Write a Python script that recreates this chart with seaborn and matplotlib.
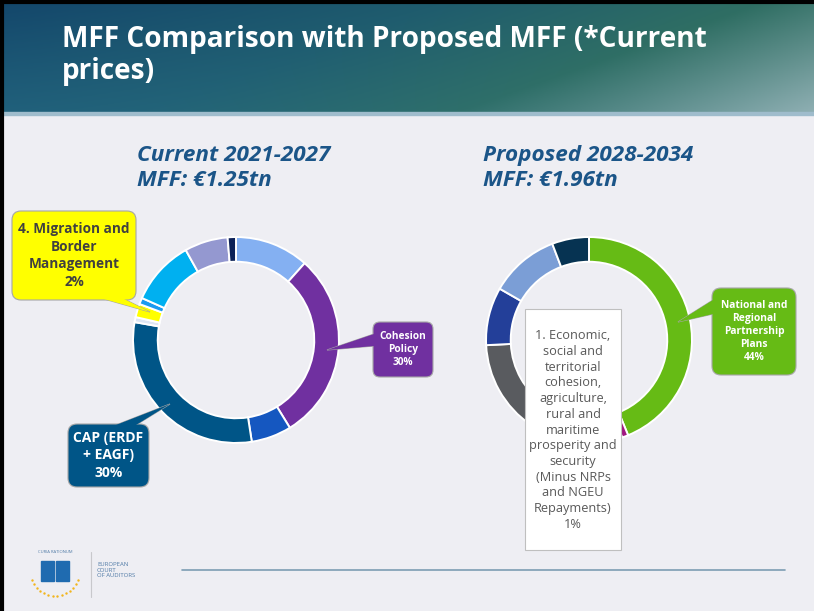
import numpy as np
import matplotlib
matplotlib.use("Agg")
import matplotlib.pyplot as plt
import seaborn as sns
from matplotlib.patches import FancyBboxPatch, Polygon, Rectangle
from matplotlib.colors import to_rgb

# ── data ──────────────────────────────────────────────────────────────
cur_labels = ["Single market & digital", "Cohesion Policy", "Resilience & values",
              "CAP (ERDF + EAGF)", "Environment", "Migration and Border Management",
              "Security & defence", "Neighbourhood & world", "Public administration",
              "Other"]
cur_share = [11.6, 29.6, 6.3, 30.2, 0.8, 2.1, 1.0, 10.2, 6.8, 1.3]
cur_colors = ["#84b0f2", "#7030a0", "#1557c0", "#005587", "#dde6f4", "#ffff00",
              "#1a9af0", "#00b0f0", "#9498d0", "#0c2157"]

new_labels = ["National and Regional Partnership Plans", "1. Economic, social ...",
              "Competitiveness", "Global Europe", "Administration", "Other"]
new_share = [43.8, 1.0, 29.4, 9.1, 10.9, 5.8]
new_colors = ["#66bb15", "#a0167f", "#595b5f", "#233f99", "#7b9ed6", "#063352"]

title_lines = ["MFF Comparison with Proposed MFF (*Current", "prices)"]
left_head = ["Current 2021-2027", "MFF: \u20ac1.25tn"]
right_head = ["Proposed 2028-2034", "MFF: \u20ac1.96tn"]

W, H = 814, 611
BG = "#eeeef3"

sns.set_theme(style="white")
plt.rcParams["font.family"] = ["Open Sans", "DejaVu Sans"]

fig = plt.figure(figsize=(W / 100, H / 100), dpi=100)
fig.patch.set_facecolor(BG)

# background layer in pixel coordinates
bg = fig.add_axes([0, 0, 1, 1])
bg.set_xlim(0, W); bg.set_ylim(H, 0); bg.axis("off")

# header gradient
gw, gh = 400, 60
xx, yy = np.meshgrid(np.linspace(0, 1, gw), np.linspace(0, 1, gh))
t = np.clip(0.72 * xx + 0.28 * yy, 0, 1)
stops = [0.0, 0.4, 0.68, 1.0]
cols = np.array([to_rgb(c) for c in ["#13466b", "#1f5c6d", "#2f6e63", "#90b0b4"]])
grad = np.stack([np.interp(t, stops, cols[:, k]) for k in range(3)], axis=-1)
# a little extra blue toward the lower left
blue = np.clip((1 - xx) * yy, 0, 1)[..., None] * 0.35
grad = grad * (1 - blue) + np.array(to_rgb("#2a7598")) * blue
bg.imshow(grad, extent=[0, W, 115, 0], aspect="auto", zorder=1)
bg.add_patch(Rectangle((0, 112), W, 3, color="#9fbccc", zorder=2))
bg.plot([1.5, 1.5], [0, H], color="black", lw=3, zorder=5)
bg.plot([0, W], [1.5, 1.5], color="black", lw=3, zorder=5)

bg.text(62, 47, title_lines[0], color="white", fontsize=20.2, fontweight="bold", zorder=3)
bg.text(62, 79, title_lines[1], color="white", fontsize=20.2, fontweight="bold", zorder=3)

head_c = "#1b5588"
for x0, lines in [(137, left_head), (483, right_head)]:
    bg.text(x0, 161, lines[0], color=head_c, fontsize=16.2, fontweight="bold", style="italic")
    bg.text(x0, 186, lines[1], color=head_c, fontsize=16.2, fontweight="bold", style="italic")

# footer
bg.plot([182, 785], [570, 570], color="#7d9db3", lw=1.2)
bg.plot([91, 91], [552, 597], color="#c8c8cc", lw=0.8)
bg.text(97, 570, "EUROPEAN\nCOURT\nOF AUDITORS", fontsize=4.3, color="#4f7aa6",
        va="center", linespacing=1.1)
ang = np.linspace(np.radians(200), np.radians(340), 14)
bg.scatter(55 + 24 * np.cos(ang), 572 - 24 * np.sin(ang), s=3, color="#f2b51c", lw=0)
bg.add_patch(Rectangle((41, 561), 13, 20, color="#1f6bb0"))
bg.add_patch(Rectangle((56, 561), 13, 20, color="#1f6bb0"))
bg.text(55, 553, "CURIA RATIONUM", fontsize=3, color="#4f7aa6", ha="center")


# ── donuts ────────────────────────────────────────────────────────────
def donut(cx, cy, r, share, colors):
    ax = fig.add_axes([(cx - r) / W, (H - cy - r) / H, 2 * r / W, 2 * r / H])
    ax.pie(share, colors=sns.color_palette(colors), startangle=90, counterclock=False,
           radius=1, wedgeprops=dict(width=0.24, edgecolor="white", linewidth=1.4))
    ax.set_xlim(-1.01, 1.01); ax.set_ylim(-1.01, 1.01)
    ax.set_aspect("auto")
    ax.axis("off")
    return ax


donut(236, 340, 104, cur_share, cur_colors)
donut(589, 340, 104, new_share, new_colors)

# ── callouts on top ───────────────────────────────────────────────────
fg = fig.add_axes([0, 0, 1, 1])
fg.set_xlim(0, W); fg.set_ylim(H, 0); fg.axis("off")
fg.patch.set_alpha(0)


def callout(x0, y0, x1, y1, fill, tri, text, tcolor, fs, weight="bold",
            edge="#a6a6a6", rs=9, ls=1.25):
    fg.add_patch(Polygon(tri, closed=True, facecolor=fill, edgecolor=edge, lw=0.8, zorder=3))
    fg.add_patch(FancyBboxPatch((x0, y0), x1 - x0, y1 - y0,
                                boxstyle=f"round,pad=0,rounding_size={rs}",
                                facecolor=fill, edgecolor=edge, lw=0.8, zorder=4))
    fg.add_patch(Polygon(tri, closed=True, facecolor=fill, edgecolor="none", zorder=5))
    fg.text((x0 + x1) / 2, (y0 + y1) / 2, text, color=tcolor, fontsize=fs,
            fontweight=weight, ha="center", va="center", linespacing=ls, zorder=6)


callout(12, 211, 136, 300, "#ffff00", [(104, 299), (124, 299), (150, 312)],
        "4. Migration and\nBorder\nManagement\n2%", "#404040", 9.8, ls=1.32)
callout(68, 424, 149, 487, "#005587", [(116, 425), (136, 425), (170, 404)],
        "CAP (ERDF\n+ EAGF)\n30%", "white", 10, ls=1.3)
callout(373, 322, 433, 377, "#7030a0", [(374, 334), (374, 346), (327, 350)],
        "Cohesion\nPolicy\n30%", "white", 7.3, rs=7)
callout(712, 288, 796, 375, "#66bb15", [(713, 300), (713, 314), (678, 322)],
        "National and\nRegional\nPartnership\nPlans\n44%", "white", 7.4)

fg.add_patch(Rectangle((525, 309), 96, 241, facecolor="white", edgecolor="#bfbfbf",
                       lw=0.8, zorder=4))
fg.text(573, 430, "1. Economic,\nsocial and\nterritorial\ncohesion,\nagriculture,\nrural and\n"
        "maritime\nprosperity and\nsecurity\n(Minus NRPs\nand NGEU\nRepayments)\n1%",
        color="#595959", fontsize=9.2, ha="center", va="center", linespacing=1.27, zorder=6)

fig.savefig("out.png", dpi=100, facecolor=BG)
